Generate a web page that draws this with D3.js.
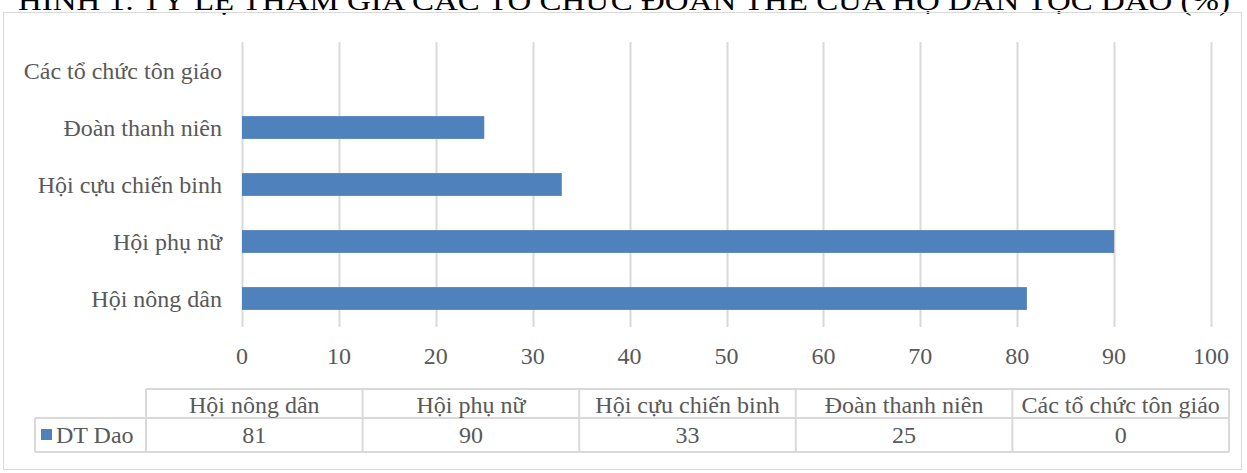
<!DOCTYPE html>
<html lang="vi">
<head>
<meta charset="utf-8">
<title>Hình 1</title>
<style>
  body { margin: 0; background: #fff; }
  svg { display: block; }
  svg text { font-family: "Liberation Serif", "Times New Roman", Times, serif; }
</style>
<script src="https://d3js.org/d3.v7.min.js"></script>
</head>
<body>
<script>
  // data
  var categories = ["Hội nông dân", "Hội phụ nữ", "Hội cựu chiến binh", "Đoàn thanh niên", "Các tổ chức tôn giáo"];
  var values = [81, 90, 33, 25, 0];
  var seriesName = "DT Dao";
  var xTicks = [0, 10, 20, 30, 40, 50, 60, 70, 80, 90, 100];
  var title = "HÌNH 1: TỶ LỆ THAM GIA CÁC TỔ CHỨC ĐOÀN THỂ CỦA HỘ DÂN TỘC DAO (%)";

  var w = 1247, h = 473;
  var fs = "24px";
  var textColor = "#595959";
  var gridColor = "#d9d9d9";
  var barColor = "#4f81bd";

  var svg = d3.select("body").append("svg")
      .attr("width", w)
      .attr("height", h);

  // title (top half is cut off in the original)
  svg.append("text")
     .attr("x", 18)
     .attr("y", 10)
     .attr("textLength", 1212)
     .attr("lengthAdjust", "spacingAndGlyphs")
     .style("font-size", "27px")
     .style("fill", "#000")
     .text(title);

  // chart border
  svg.append("rect")
     .attr("x", 3.5).attr("y", 12.5)
     .attr("width", 1238).attr("height", 457)
     .attr("fill", "none")
     .attr("stroke", gridColor)
     .attr("stroke-width", 1);

  var plotLeft = 242, plotRight = 1211, plotTop = 42, plotBottom = 327;

  var x = d3.scaleLinear().domain([0, 100]).range([plotLeft, plotRight]);
  // first category at bottom
  var y = d3.scaleBand().domain(categories.slice().reverse())
      .range([plotTop, plotBottom]).paddingInner(0.6).paddingOuter(0.3);

  // gridlines
  svg.append("g").selectAll("line")
     .data(xTicks).enter().append("line")
     .attr("x1", function (d) { return Math.round(x(d)) + 0.5; })
     .attr("x2", function (d) { return Math.round(x(d)) + 0.5; })
     .attr("y1", plotTop)
     .attr("y2", plotBottom)
     .attr("stroke", gridColor)
     .attr("stroke-width", 2);

  // bars
  svg.append("g").selectAll("rect")
     .data(categories).enter().append("rect")
     .attr("x", x(0))
     .attr("y", function (d) { return y(d); })
     .attr("width", function (d, i) { return x(values[i]) - x(0); })
     .attr("height", y.bandwidth())
     .attr("fill", barColor);

  // category labels
  svg.append("g").selectAll("text")
     .data(categories).enter().append("text")
     .attr("x", 222)
     .attr("y", function (d) { return y(d) + y.bandwidth() / 2; })
     .attr("dy", "0.35em")
     .attr("text-anchor", "end")
     .style("font-size", fs)
     .style("fill", textColor)
     .text(function (d) { return d; });

  // x tick labels
  svg.append("g").selectAll("text")
     .data(xTicks).enter().append("text")
     .attr("x", function (d) { return x(d); })
     .attr("y", 356)
     .attr("dy", "0.35em")
     .attr("text-anchor", "middle")
     .style("font-size", fs)
     .style("fill", textColor)
     .text(function (d) { return d; });

  // data table
  var tLeft = 35, tFirst = 146, tRight = 1229;
  var rowTop = 389, rowMid = 418, rowBot = 452;
  var col = d3.scaleBand().domain(categories).range([tFirst, tRight]);
  var table = svg.append("g");

  function line(x1, y1, x2, y2) {
    table.append("line")
         .attr("x1", x1).attr("y1", y1).attr("x2", x2).attr("y2", y2)
         .attr("stroke", gridColor).attr("stroke-width", 2);
  }
  line(tFirst, rowTop, tRight, rowTop);
  line(tLeft, rowMid, tRight, rowMid);
  line(tLeft, rowBot, tRight, rowBot);
  line(tLeft, rowMid, tLeft, rowBot);
  categories.forEach(function (c) { line(col(c), rowTop, col(c), rowBot); });
  line(tRight, rowTop, tRight, rowBot);

  table.selectAll("text.head")
       .data(categories).enter().append("text")
       .attr("class", "head")
       .attr("x", function (d) { return col(d) + col.bandwidth() / 2; })
       .attr("y", (rowTop + rowMid) / 2 + 1)
       .attr("dy", "0.35em")
       .attr("text-anchor", "middle")
       .style("font-size", fs)
       .style("fill", textColor)
       .text(function (d) { return d; });

  table.selectAll("text.val")
       .data(categories).enter().append("text")
       .attr("class", "val")
       .attr("x", function (d) { return col(d) + col.bandwidth() / 2; })
       .attr("y", (rowMid + rowBot) / 2)
       .attr("dy", "0.35em")
       .attr("text-anchor", "middle")
       .style("font-size", fs)
       .style("fill", textColor)
       .text(function (d, i) { return values[i]; });

  // legend key
  table.append("rect")
       .attr("x", 41).attr("y", 429)
       .attr("width", 11).attr("height", 11)
       .attr("fill", barColor);
  table.append("text")
       .attr("x", 56)
       .attr("y", (rowMid + rowBot) / 2)
       .attr("dy", "0.35em")
       .style("font-size", fs)
       .style("fill", textColor)
       .text(seriesName);
</script>
</body>
</html>
